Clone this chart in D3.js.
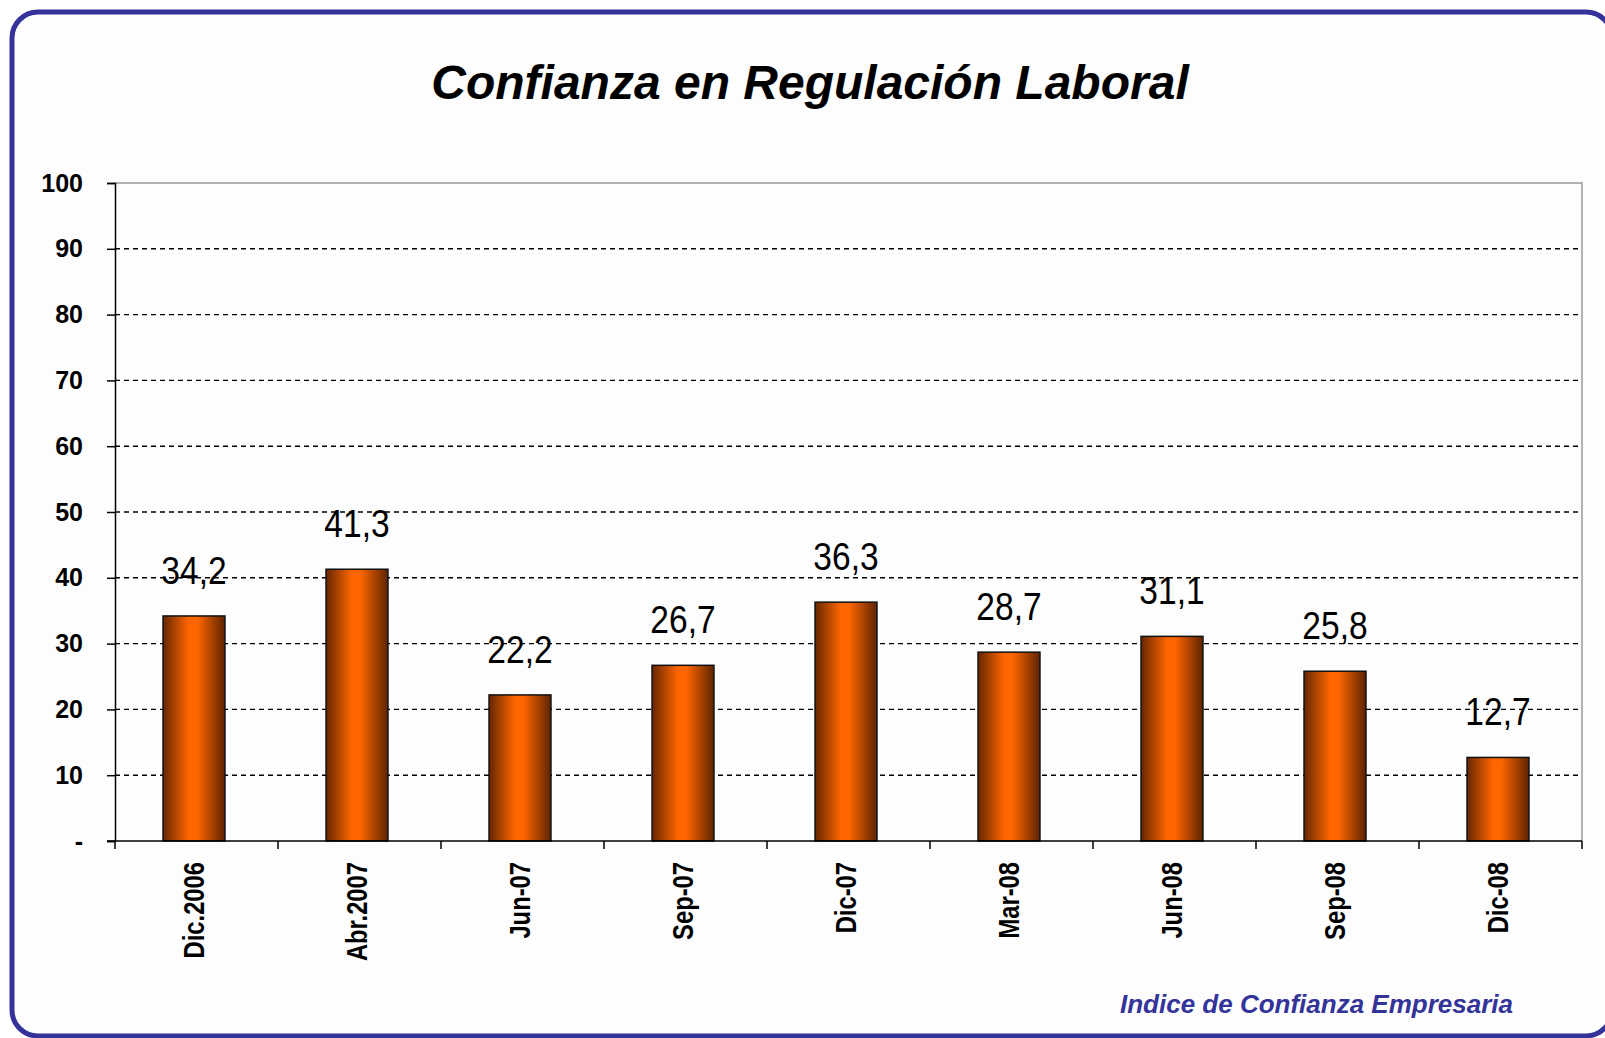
<!DOCTYPE html>
<html>
<head>
<meta charset="utf-8">
<script src="https://cdn.jsdelivr.net/npm/d3@7"></script>
<style>
  html, body { margin: 0; padding: 0; background: #fff; }
  svg { display: block; }
</style>
</head>
<body>
<svg id="graph"></svg>
<script>
var width = 1605, height = 1038;

// data
var categories = ["Dic.2006", "Abr.2007", "Jun-07", "Sep-07", "Dic-07", "Mar-08", "Jun-08", "Sep-08", "Dic-08"];
var values = [34.2, 41.3, 22.2, 26.7, 36.3, 28.7, 31.1, 25.8, 12.7];
var yTicks = [0, 10, 20, 30, 40, 50, 60, 70, 80, 90, 100];
var yTickLabels = ["-", "10", "20", "30", "40", "50", "60", "70", "80", "90", "100"];

var plotLeft = 115, plotRight = 1582, plotTop = 183, plotBottom = 841;

var svg = d3.select("#graph")
	.attr("width", width)
	.attr("height", height);

var defs = svg.append("defs");
var grad = defs.append("linearGradient")
	.attr("id", "barGrad")
	.attr("x1", "0%").attr("x2", "100%")
	.attr("y1", "0%").attr("y2", "0%");
grad.append("stop").attr("offset", "0%").attr("stop-color", "#662600");
grad.append("stop").attr("offset", "42%").attr("stop-color", "#ff6600");
grad.append("stop").attr("offset", "55%").attr("stop-color", "#ff6600");
grad.append("stop").attr("offset", "100%").attr("stop-color", "#5e2300");

// frame
svg.append("rect")
	.attr("x", 12).attr("y", 12)
	.attr("width", 1600).attr("height", 1024)
	.attr("rx", 26).attr("ry", 26)
	.attr("fill", "#fdfdfd")
	.attr("stroke", "#333399")
	.attr("stroke-width", 5);

// bars sit a little left of band centre in the original
var x = d3.scaleBand()
	.domain(categories)
	.range([plotLeft - 2.5, plotRight - 2.5])
	.paddingInner(0.62)
	.paddingOuter(0.31);

var y = d3.scaleLinear()
	.domain([0, 100])
	.range([plotBottom, plotTop]);

// title
svg.append("text")
	.attr("x", 810)
	.attr("y", 99)
	.attr("text-anchor", "middle")
	.attr("font-family", "Liberation Sans, Arial, sans-serif")
	.attr("font-size", "48px")
	.attr("font-weight", "bold")
	.attr("font-style", "italic")
	.attr("fill", "#000")
	.text("Confianza en Regulación Laboral");

// gridlines
svg.append("g")
	.selectAll("line")
	.data(yTicks.filter(d => d > 0 && d < 100))
	.enter()
	.append("line")
	.attr("x1", plotLeft).attr("x2", plotRight)
	.attr("y1", d => y(d)).attr("y2", d => y(d))
	.attr("stroke", "#000")
	.attr("stroke-width", 1.4)
	.attr("stroke-dasharray", "5,4");

// plot border top/right
svg.append("path")
	.attr("d", "M" + plotLeft + "," + plotTop + "H" + plotRight + "V" + plotBottom)
	.attr("fill", "none")
	.attr("stroke", "#999")
	.attr("stroke-width", 1.5);

// y axis
var yAxis = d3.axisLeft(y)
	.tickValues(yTicks)
	.tickSize(8)
	.tickPadding(24)
	.tickFormat((d, i) => yTickLabels[i]);
var gy = svg.append("g")
	.attr("transform", "translate(" + plotLeft + ",0)")
	.call(yAxis);
gy.select(".domain").attr("stroke", "#000").attr("stroke-width", 1.5);
gy.selectAll(".tick line").attr("stroke", "#000").attr("stroke-width", 1.5);
gy.selectAll(".tick text")
	.attr("font-family", "Liberation Sans, Arial, sans-serif")
	.attr("font-size", "25px")
	.attr("font-weight", "bold")
	.attr("fill", "#000");

// bars
svg.append("g")
	.selectAll("rect")
	.data(values)
	.enter()
	.append("rect")
	.attr("x", (d, i) => x(categories[i]))
	.attr("y", d => y(d))
	.attr("width", x.bandwidth())
	.attr("height", d => y(0) - y(d))
	.attr("fill", "url(#barGrad)")
	.attr("stroke", "#111")
	.attr("stroke-width", 1.5);

// x axis line and ticks at category edges
var step = x.step();
svg.append("line")
	.attr("x1", plotLeft - 8).attr("x2", plotRight)
	.attr("y1", plotBottom).attr("y2", plotBottom)
	.attr("stroke", "#000")
	.attr("stroke-width", 1.5);
svg.append("g")
	.selectAll("line")
	.data(d3.range(categories.length + 1))
	.enter()
	.append("line")
	.attr("x1", i => plotLeft + i * step).attr("x2", i => plotLeft + i * step)
	.attr("y1", plotBottom).attr("y2", plotBottom + 8)
	.attr("stroke", "#000")
	.attr("stroke-width", 1.5);

// category labels
svg.append("g")
	.selectAll("text")
	.data(categories)
	.enter()
	.append("text")
	.attr("transform", d => "translate(" + (x(d) + x.bandwidth() / 2 + 10) + "," + (plotBottom + 21) + ") rotate(-90) scale(0.82,1)")
	.attr("text-anchor", "end")
	.attr("font-family", "Liberation Sans, Arial, sans-serif")
	.attr("font-size", "29px")
	.attr("font-weight", "bold")
	.attr("fill", "#000")
	.text(d => d);

// value labels
svg.append("g")
	.selectAll("text")
	.data(values)
	.enter()
	.append("text")
	.attr("transform", (d, i) => "translate(" + (x(categories[i]) + x.bandwidth() / 2) + "," + (y(d) - 32) + ") scale(0.86,1)")
	.attr("text-anchor", "middle")
	.attr("font-family", "Liberation Sans, Arial, sans-serif")
	.attr("font-size", "39px")
	.attr("fill", "#000")
	.text(d => d.toFixed(1).replace(".", ","));

// footer
svg.append("text")
	.attr("x", 1513)
	.attr("y", 1013)
	.attr("text-anchor", "end")
	.attr("font-family", "Liberation Sans, Arial, sans-serif")
	.attr("font-size", "26px")
	.attr("font-weight", "bold")
	.attr("font-style", "italic")
	.attr("fill", "#333399")
	.text("Indice de Confianza Empresaria");
</script>
</body>
</html>
